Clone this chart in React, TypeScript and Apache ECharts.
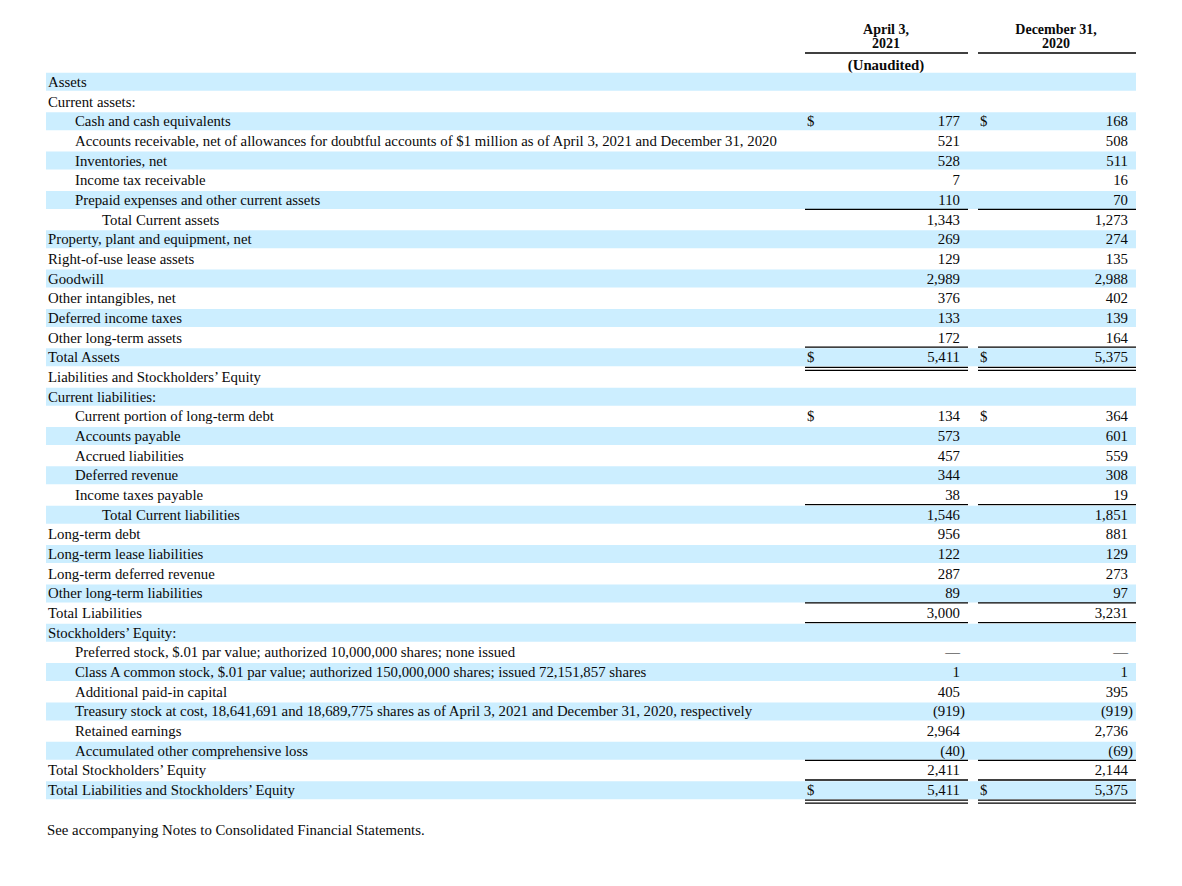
import React, { useEffect, useRef } from "react";
import * as echarts from "echarts";

const rowLabels = [
  "Assets",
  "Current assets:",
  "Cash and cash equivalents",
  "Accounts receivable, net of allowances for doubtful accounts of $1 million as of April 3, 2021 and December 31, 2020",
  "Inventories, net",
  "Income tax receivable",
  "Prepaid expenses and other current assets",
  "Total Current assets",
  "Property, plant and equipment, net",
  "Right-of-use lease assets",
  "Goodwill",
  "Other intangibles, net",
  "Deferred income taxes",
  "Other long-term assets",
  "Total Assets",
  "Liabilities and Stockholders\u2019 Equity",
  "Current liabilities:",
  "Current portion of long-term debt",
  "Accounts payable",
  "Accrued liabilities",
  "Deferred revenue",
  "Income taxes payable",
  "Total Current liabilities",
  "Long-term debt",
  "Long-term lease liabilities",
  "Long-term deferred revenue",
  "Other long-term liabilities",
  "Total Liabilities",
  "Stockholders\u2019 Equity:",
  "Preferred stock, $.01 par value; authorized 10,000,000 shares; none issued",
  "Class A common stock, $.01 par value; authorized 150,000,000 shares; issued 72,151,857 shares",
  "Additional paid-in capital",
  "Treasury stock at cost, 18,641,691 and 18,689,775 shares as of April 3, 2021 and December 31, 2020, respectively",
  "Retained earnings",
  "Accumulated other comprehensive loss",
  "Total Stockholders\u2019 Equity",
  "Total Liabilities and Stockholders\u2019 Equity",
];

const rowIndent = [0, 0, 1, 1, 1, 1, 1, 2, 0, 0, 0, 0, 0, 0, 0, 0, 0, 1, 1, 1, 1, 1, 2, 0, 0, 0, 0, 0, 0, 1, 1, 1, 1, 1, 1, 0, 0];

const april2021: (number | null)[] = [
  null, null, 177, 521, 528, 7, 110, 1343, 269, 129, 2989, 376, 133, 172, 5411,
  null, null, 134, 573, 457, 344, 38, 1546, 956, 122, 287, 89, 3000,
  null, 0, 1, 405, -919, 2964, -40, 2411, 5411,
];

const december2020: (number | null)[] = [
  null, null, 168, 508, 511, 16, 70, 1273, 274, 135, 2988, 402, 139, 164, 5375,
  null, null, 364, 601, 559, 308, 19, 1851, 881, 129, 273, 97, 3231,
  null, 0, 1, 395, -919, 2736, -69, 2144, 5375,
];

const columnHeaders = [["April 3,", "2021"], ["December 31,", "2020"]];
const columnNotes = ["(Unaudited)", ""];
const dollarRows = [2, 14, 17, 36];
const singleRuleRows = [6, 13, 21, 26, 27, 34, 35];
const doubleRuleRows = [14, 36];
const footnote = "See accompanying Notes to Consolidated Financial Statements.";

const FAMILY = '"Liberation Serif", "Times New Roman", serif';
const FONT = "14.8px " + FAMILY;
const BOLD = "bold 14.8px " + FAMILY;
const HEAD = "bold 14px " + FAMILY;
const INK = "#0a0a0a";
const BAND = "#cceeff";

const cols = [
  { l: 805, r: 968, dollar: 807, num: 960, center: 886 },
  { l: 978, r: 1136, dollar: 980, num: 1128, center: 1056 },
];

function fmt(v: number | null) {
  if (v === null) return null;
  if (v === 0) return { main: "\u2014", close: "" };
  const s = Math.abs(v).toLocaleString("en-US");
  return v < 0 ? { main: "(" + s, close: ")" } : { main: s, close: "" };
}

function txt(text: string, x: number, y: number, align: string, font = FONT) {
  return {
    type: "text",
    silent: true,
    style: {
      text,
      x,
      y,
      font,
      fill: INK,
      align,
      verticalAlign: "middle",
      textAlign: align,
      textVerticalAlign: "middle",
    },
  };
}

function hline(x1: number, x2: number, y: number) {
  return {
    type: "line",
    silent: true,
    shape: { x1, y1: y, x2, y2: y },
    style: { stroke: "#000", lineWidth: 1.3 },
  };
}

export default function App() {
  const ref = useRef<HTMLDivElement>(null);

  useEffect(() => {
    document.body.style.margin = "0";
    const chart = echarts.init(ref.current!, null, { renderer: "svg" });

    const renderItem = (params: any, api: any) => {
      const idx = api.value(1) as number;
      const y = api.coord([0, idx])[1];
      const children: any[] = [];
      if (idx % 2 === 0) {
        children.push({
          type: "rect",
          silent: true,
          shape: { x: 46, y: y - 9, width: 1090, height: 18 },
          style: { fill: BAND },
        });
      }
      children.push(txt(rowLabels[idx], 48 + rowIndent[idx] * 27, y, "left"));
      [april2021, december2020].forEach((series, c) => {
        const col = cols[c];
        const f = fmt(series[idx]);
        if (f) {
          children.push(txt(f.main, col.num, y, "right"));
          if (f.close) children.push(txt(f.close, col.num, y, "left"));
        }
        if (dollarRows.includes(idx)) children.push(txt("$", col.dollar, y, "left"));
        if (singleRuleRows.includes(idx)) children.push(hline(col.l, col.r, y + 9.5));
        if (doubleRuleRows.includes(idx)) {
          children.push(hline(col.l, col.r, y + 10));
          children.push(hline(col.l, col.r, y + 13));
        }
      });
      return { type: "group", children };
    };

    const graphics: any[] = [];
    columnHeaders.forEach((lines, c) => {
      const col = cols[c];
      graphics.push(txt(lines[0], col.center, 29.5, "center", HEAD));
      graphics.push(txt(lines[1], col.center, 43.5, "center", HEAD));
      graphics.push(hline(col.l, col.r, 53));
      if (columnNotes[c]) graphics.push(txt(columnNotes[c], col.center, 65, "center", BOLD));
    });
    graphics.push(txt(footnote, 47, 830, "left"));

    chart.setOption({
      animation: false,
      grid: { left: 0, right: 0, top: 72, bottom: 86 },
      xAxis: { type: "value", min: 0, max: 1182, show: false },
      yAxis: { type: "category", data: rowLabels, inverse: true, show: false },
      graphic: graphics,
      series: [
        {
          type: "custom",
          renderItem,
          clip: false,
          encode: { x: 0, y: 1 },
          data: rowLabels.map((_, i) => [0, i]),
        },
      ],
    });

    return () => chart.dispose();
  }, []);

  return <div ref={ref} style={{ width: 1182, height: 886 }} />;
}
